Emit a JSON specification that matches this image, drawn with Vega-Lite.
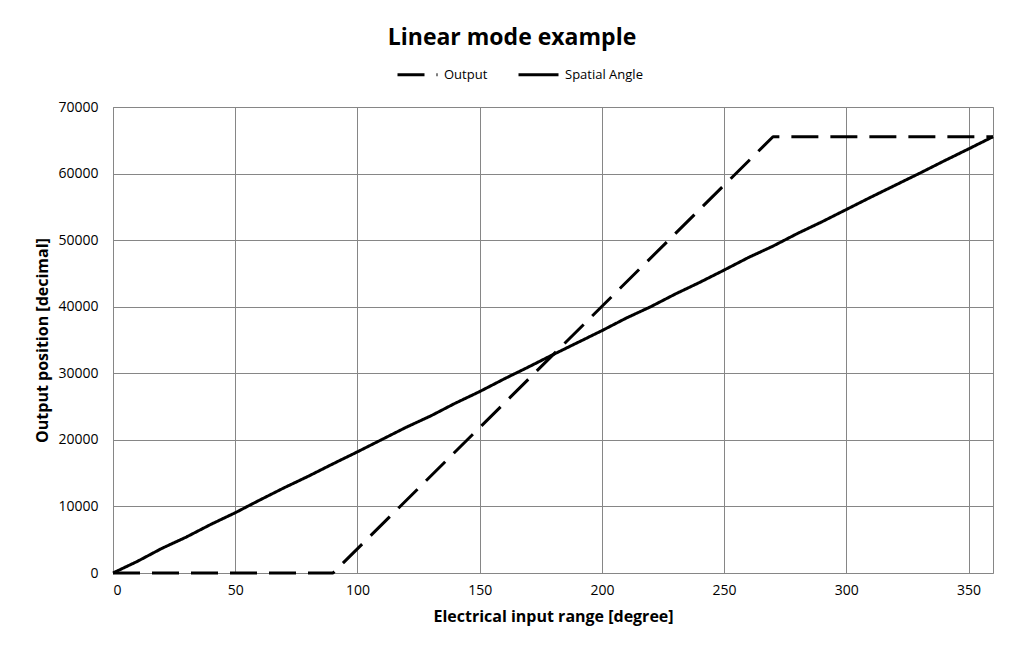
{
  "$schema": "https://vega.github.io/schema/vega-lite/v6.json",
  "autosize": {"type": "none"},
  "padding": {"left": 113, "top": 107, "right": 17, "bottom": 81},
  "width": 880,
  "height": 466,
  "background": "white",
  "title": {
    "text": "Linear mode example",
    "font": "Open Sans",
    "fontSize": 23,
    "fontWeight": "bold",
    "color": "#000000",
    "anchor": "middle",
    "frame": "group",
    "dx": -41,
    "offset": 3
  },
  "data": {
    "values": [
      {"deg": 0, "value": 0, "series": "Output"},
      {"deg": 90, "value": 0, "series": "Output"},
      {"deg": 270, "value": 65535, "series": "Output"},
      {"deg": 360, "value": 65535, "series": "Output"},
      {"deg": 0, "value": 0, "series": "Spatial Angle"},
      {"deg": 10, "value": 1750, "series": "Spatial Angle"},
      {"deg": 20, "value": 3700, "series": "Spatial Angle"},
      {"deg": 30, "value": 5400, "series": "Spatial Angle"},
      {"deg": 40, "value": 7300, "series": "Spatial Angle"},
      {"deg": 50, "value": 9050, "series": "Spatial Angle"},
      {"deg": 60, "value": 10950, "series": "Spatial Angle"},
      {"deg": 70, "value": 12800, "series": "Spatial Angle"},
      {"deg": 80, "value": 14550, "series": "Spatial Angle"},
      {"deg": 90, "value": 16400, "series": "Spatial Angle"},
      {"deg": 100, "value": 18200, "series": "Spatial Angle"},
      {"deg": 110, "value": 20050, "series": "Spatial Angle"},
      {"deg": 120, "value": 21900, "series": "Spatial Angle"},
      {"deg": 130, "value": 23600, "series": "Spatial Angle"},
      {"deg": 140, "value": 25500, "series": "Spatial Angle"},
      {"deg": 150, "value": 27250, "series": "Spatial Angle"},
      {"deg": 160, "value": 29150, "series": "Spatial Angle"},
      {"deg": 170, "value": 30950, "series": "Spatial Angle"},
      {"deg": 180, "value": 32800, "series": "Spatial Angle"},
      {"deg": 190, "value": 34600, "series": "Spatial Angle"},
      {"deg": 200, "value": 36400, "series": "Spatial Angle"},
      {"deg": 210, "value": 38300, "series": "Spatial Angle"},
      {"deg": 220, "value": 40000, "series": "Spatial Angle"},
      {"deg": 230, "value": 41900, "series": "Spatial Angle"},
      {"deg": 240, "value": 43650, "series": "Spatial Angle"},
      {"deg": 250, "value": 45500, "series": "Spatial Angle"},
      {"deg": 260, "value": 47400, "series": "Spatial Angle"},
      {"deg": 270, "value": 49100, "series": "Spatial Angle"},
      {"deg": 280, "value": 51000, "series": "Spatial Angle"},
      {"deg": 290, "value": 52750, "series": "Spatial Angle"},
      {"deg": 300, "value": 54600, "series": "Spatial Angle"},
      {"deg": 310, "value": 56450, "series": "Spatial Angle"},
      {"deg": 320, "value": 58250, "series": "Spatial Angle"},
      {"deg": 330, "value": 60050, "series": "Spatial Angle"},
      {"deg": 340, "value": 61900, "series": "Spatial Angle"},
      {"deg": 350, "value": 63700, "series": "Spatial Angle"},
      {"deg": 360, "value": 65535, "series": "Spatial Angle"}
    ]
  },
  "mark": {"type": "line", "color": "#000000", "strokeWidth": 3, "strokeJoin": "round", "clip": false},
  "encoding": {
    "x": {
      "field": "deg",
      "type": "quantitative",
      "scale": {"domain": [0, 360], "nice": false, "zero": true},
      "axis": {
        "title": "Electrical input range [degree]",
        "values": [0, 50, 100, 150, 200, 250, 300, 350],
        "format": "d",
        "labelPadding": 10,
        "titlePadding": 11
      }
    },
    "y": {
      "field": "value",
      "type": "quantitative",
      "scale": {"domain": [0, 70000], "nice": false},
      "axis": {
        "title": "Output position [decimal]",
        "values": [0, 10000, 20000, 30000, 40000, 50000, 60000, 70000],
        "format": "d",
        "labelPadding": 15,
        "titlePadding": 7
      }
    },
    "strokeDash": {
      "field": "series",
      "type": "nominal",
      "scale": {"domain": ["Output", "Spatial Angle"], "range": [[27, 12], [1, 0]]},
      "legend": {
        "title": null,
        "orient": "none",
        "direction": "horizontal",
        "legendX": 283,
        "legendY": -54,
        "symbolType": "stroke",
        "symbolSize": 1600,
        "symbolStrokeWidth": 3,
        "symbolStrokeColor": "#000000",
        "labelFont": "Open Sans",
        "labelFontSize": 13,
        "labelColor": "#000000",
        "labelOffset": 5,
        "columnPadding": 24,
        "padding": 0
      }
    }
  },
  "config": {
    "view": {"stroke": "#868686", "strokeWidth": 1},
    "axis": {
      "domain": false,
      "ticks": false,
      "grid": true,
      "gridColor": "#868686",
      "gridWidth": 1,
      "gridOpacity": 1,
      "labelFont": "Open Sans",
      "labelFontSize": 14,
      "labelColor": "#000000",
      "titleFont": "Open Sans",
      "titleFontSize": 16,
      "titleFontWeight": "bold",
      "titleColor": "#000000"
    }
  }
}
